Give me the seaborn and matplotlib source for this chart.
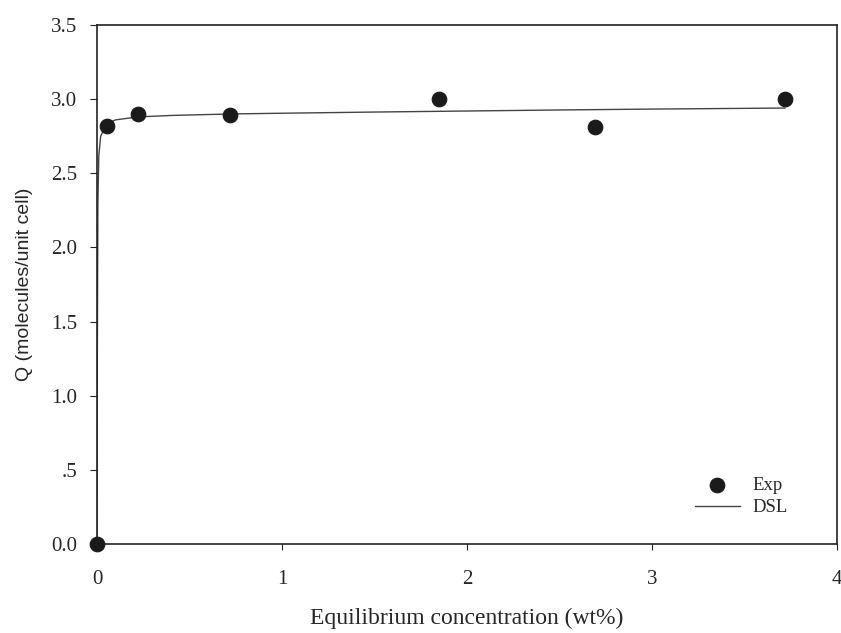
import numpy as np
import pandas as pd
import matplotlib
matplotlib.use("Agg")
import matplotlib.pyplot as plt
import seaborn as sns

# experimental points
exp_conc = [0.0, 0.054, 0.22, 0.72, 1.85, 2.69, 3.72]
exp_q = [0.0, 2.82, 2.90, 2.89, 3.00, 2.81, 3.00]

# DSL fit curve
dsl_conc = [0.0, 0.002, 0.005, 0.01, 0.02, 0.05, 0.1, 0.22, 0.4, 0.72, 1.0, 1.5, 2.0, 2.5, 3.0, 3.72]
dsl_q = [0.0, 1.3, 2.3, 2.62, 2.75, 2.83, 2.86, 2.88, 2.89, 2.90, 2.905, 2.913, 2.92, 2.927, 2.933, 2.94]

yticks = [0, 0.5, 1.0, 1.5, 2.0, 2.5, 3.0, 3.5]
ytick_labels = ["0.0", ".5", "1.0", "1.5", "2.0", "2.5", "3.0", "3.5"]
xticks = [0, 1, 2, 3, 4]

df_exp = pd.DataFrame({"conc": exp_conc, "q": exp_q})
df_dsl = pd.DataFrame({"conc": dsl_conc, "q": dsl_q})

sns.set_style("ticks")
plt.rcParams["font.family"] = ["Liberation Serif", "DejaVu Serif"]

fig = plt.figure(figsize=(8.41, 6.33), dpi=100)
ax = fig.add_axes([0.1153, 0.1406, 0.8799, 0.8199])

sns.lineplot(data=df_dsl, x="conc", y="q", ax=ax, color="#444444", linewidth=1.0,
             label="DSL", zorder=2)
sns.scatterplot(data=df_exp, x="conc", y="q", ax=ax, color="#1a1a1a", s=110,
                edgecolor="#1a1a1a", label="Exp", zorder=3, clip_on=False)

ax.set_xlim(0, 4)
ax.set_ylim(0, 3.5)
ax.set_xticks(xticks)
ax.set_xticklabels([str(t) for t in xticks])
ax.set_yticks(yticks)
ax.set_yticklabels(ytick_labels)
ax.tick_params(axis="x", direction="out", length=4, labelsize=15, pad=15, color="#222222")
ax.tick_params(axis="y", direction="out", length=5, labelsize=15, pad=9, color="#222222")
for sp in ax.spines.values():
    sp.set_visible(True)
    sp.set_linewidth(1.2)
    sp.set_color("#222222")

ax.set_xlabel("Equilibrium concentration (wt%)", fontsize=17, labelpad=13)
ax.set_ylabel("Q (molecules/unit cell)", fontsize=14,
              family=["Liberation Sans", "DejaVu Sans"])
ax.yaxis.set_label_coords(-0.086, 0.5)

h, l = ax.get_legend_handles_labels()
order = [l.index("Exp"), l.index("DSL")]
ax.legend([h[i] for i in order], [l[i] for i in order], frameon=False, fontsize=13.5,
          loc="upper left", bbox_to_anchor=(0.808, 0.13), borderpad=0, borderaxespad=0,
          handlelength=2.4, handletextpad=0.65, labelspacing=0.3)

fig.savefig("out.png", dpi=100)
